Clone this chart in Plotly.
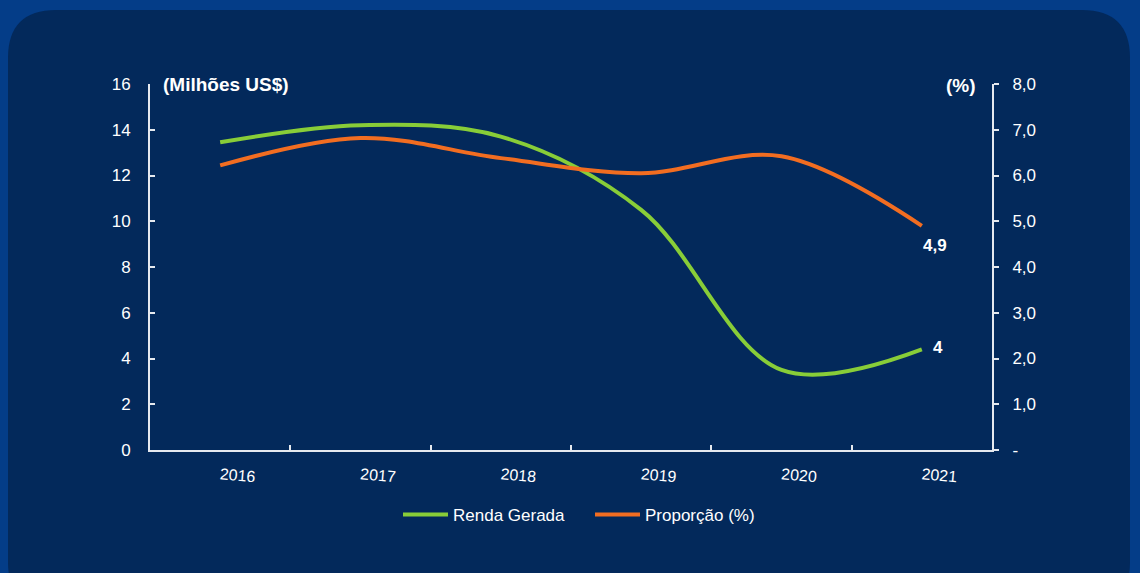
import plotly.graph_objects as go

# Series data
anos = ["2016", "2017", "2018", "2019", "2020", "2021"]
renda_gerada = [13.45, 14.2, 13.7, 10.5, 3.5, 4.4]      # milhões US$
proporcao = [6.22, 6.82, 6.38, 6.05, 6.42, 4.9]          # %

# Tick labels
y_left_ticks = [0, 2, 4, 6, 8, 10, 12, 14, 16]
y_right_ticks = [0, 1, 2, 3, 4, 5, 6, 7, 8]
y_right_text = ["-", "1,0", "2,0", "3,0", "4,0", "5,0", "6,0", "7,0", "8,0"]

W, H = 1140, 573
ML, MR, MT, MB = 150, 148, 84, 123
PW, PH = W - ML - MR, H - MT - MB

OUTER = "#043d88"
PANEL = "#03295b"
GREEN = "#88cd38"
ORANGE = "#f26d21"
WHITE = "#ffffff"
AXIS = "#e6e9ef"
FONT = "Liberation Sans, Arial, sans-serif"


def px(x):
    return (x - ML) / PW


def py(y):
    return (H - MB - y) / PH


def rounded_rect(x0, y0, x1, y1, r):
    pts = [
        f"M {px(x0 + r)},{py(y0)}",
        f"L {px(x1 - r)},{py(y0)}",
        f"Q {px(x1)},{py(y0)} {px(x1)},{py(y0 + r)}",
        f"L {px(x1)},{py(y1 - r)}",
        f"Q {px(x1)},{py(y1)} {px(x1 - r)},{py(y1)}",
        f"L {px(x0 + r)},{py(y1)}",
        f"Q {px(x0)},{py(y1)} {px(x0)},{py(y1 - r)}",
        f"L {px(x0)},{py(y0 + r)}",
        f"Q {px(x0)},{py(y0)} {px(x0 + r)},{py(y0)}",
        "Z",
    ]
    return " ".join(pts)


def fmt(v, nd):
    return f"{v:.{nd}f}".replace(".", ",")


fig = go.Figure()

fig.add_trace(go.Scatter(
    x=anos, y=renda_gerada, name="Renda Gerada",
    mode="lines",
    line=dict(color=GREEN, width=4, shape="spline"),
    yaxis="y",
))

fig.add_trace(go.Scatter(
    x=anos, y=proporcao, name="Proporção (%)",
    mode="lines",
    line=dict(color=ORANGE, width=4, shape="spline"),
    yaxis="y2",
))

# index of the last category on the category axis
last = len(anos) - 1

fig.update_layout(
    width=W, height=H,
    margin=dict(l=ML, r=MR, t=MT, b=MB),
    paper_bgcolor=OUTER,
    plot_bgcolor="rgba(0,0,0,0)",
    separators=",.",
    font=dict(family=FONT, size=16, color=WHITE),
    showlegend=True,
    legend=dict(
        orientation="h", x=px(398), xanchor="left",
        y=py(515), yanchor="middle",
        font=dict(family=FONT, size=17, color=WHITE),
        bgcolor="rgba(0,0,0,0)", itemwidth=45, traceorder="normal",
        entrywidth=132, entrywidthmode="pixels",
    ),
    xaxis=dict(
        type="category", range=[-0.5, 5.5],
        showgrid=False, zeroline=False,
        showline=True, linecolor=AXIS, linewidth=2,
        ticks="inside", tickson="boundaries", ticklen=5, tickwidth=1.5,
        tickcolor=AXIS,
        tickangle=5,
        tickfont=dict(family=FONT, size=16, color=WHITE),
        ticklabelstandoff=8,
    ),
    yaxis=dict(
        range=[0, 16], tickvals=y_left_ticks,
        showgrid=False, zeroline=False,
        showline=True, linecolor=AXIS, linewidth=2,
        ticks="inside", ticklen=5, tickwidth=1.5, tickcolor=AXIS,
        tickfont=dict(family=FONT, size=17, color=WHITE),
        ticklabelstandoff=14,
    ),
    yaxis2=dict(
        range=[0, 8], tickvals=y_right_ticks, ticktext=y_right_text,
        overlaying="y", side="right", anchor="x",
        showgrid=False, zeroline=False,
        showline=True, linecolor=AXIS, linewidth=2,
        ticks="outside", ticklen=5, tickwidth=1.5, tickcolor=AXIS,
        tickfont=dict(family=FONT, size=17, color=WHITE),
        ticklabelstandoff=10,
    ),
    shapes=[dict(
        type="path", xref="paper", yref="paper", layer="below",
        path=rounded_rect(8, 10, 1130, 610, 48),
        fillcolor=PANEL, line=dict(width=0),
    )],
    annotations=[
        dict(text="<b>(Milhões US$)</b>", xref="paper", yref="paper",
             x=px(161), y=py(84), xanchor="left", yanchor="middle",
             showarrow=False, font=dict(family=FONT, size=19, color=WHITE)),
        dict(text="<b>(%)</b>", xref="paper", yref="paper",
             x=px(978), y=py(85), xanchor="right", yanchor="middle",
             showarrow=False, font=dict(family=FONT, size=19, color=WHITE)),
        # end-of-series value labels
        dict(text="<b>" + fmt(renda_gerada[-1], 0) + "</b>",
             x=last, y=renda_gerada[-1], xref="x", yref="y",
             xanchor="left", yanchor="middle", xshift=9, yshift=2,
             showarrow=False, font=dict(family=FONT, size=17, color=WHITE)),
        dict(text="<b>" + fmt(proporcao[-1], 1) + "</b>",
             x=last, y=proporcao[-1], xref="x", yref="y2",
             xanchor="left", yanchor="top", xshift=-1, yshift=-8,
             showarrow=False, font=dict(family=FONT, size=17, color=WHITE)),
    ],
)

fig.write_html("out.html")
